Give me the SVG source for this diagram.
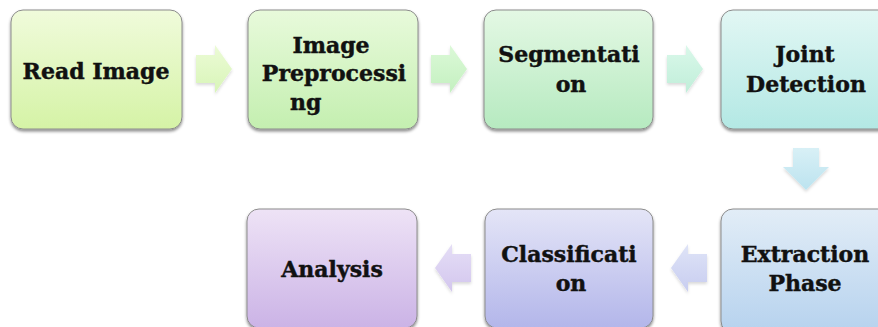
<svg xmlns="http://www.w3.org/2000/svg" width="878" height="327" viewBox="0 0 878 327">
<defs>
<style>
.box{stroke:#8c8c8c;stroke-width:1;filter:url(#sh)}
.arr{filter:url(#ash)}
.t{font-family:"DejaVu Serif","Liberation Serif",serif;font-weight:bold;font-size:22px;fill:#111;stroke:#111;stroke-width:0.45;text-anchor:middle}
.s{text-anchor:start}
</style>
<filter id="sh" x="-10%" y="-10%" width="120%" height="125%">
<feDropShadow dx="0" dy="2" stdDeviation="1.6" flood-color="#000" flood-opacity="0.45"/>
</filter>
<filter id="ash" x="-20%" y="-20%" width="140%" height="150%">
<feDropShadow dx="0" dy="2" stdDeviation="1.5" flood-color="#000" flood-opacity="0.15"/>
</filter>
<linearGradient id="g1" x1="0" y1="0" x2="0" y2="1"><stop offset="0" stop-color="#f0fbdb"/><stop offset="1" stop-color="#d5f3a6"/></linearGradient>
<linearGradient id="g2" x1="0" y1="0" x2="0" y2="1"><stop offset="0" stop-color="#e8fadb"/><stop offset="1" stop-color="#c4efb0"/></linearGradient>
<linearGradient id="g3" x1="0" y1="0" x2="0" y2="1"><stop offset="0" stop-color="#e4f8e4"/><stop offset="1" stop-color="#b6eac0"/></linearGradient>
<linearGradient id="g4" x1="0" y1="0" x2="0" y2="1"><stop offset="0" stop-color="#e2f7f4"/><stop offset="1" stop-color="#b3e8e4"/></linearGradient>
<linearGradient id="g5" x1="0" y1="0" x2="0" y2="1"><stop offset="0" stop-color="#e2edf7"/><stop offset="1" stop-color="#b6d2ee"/></linearGradient>
<linearGradient id="g6" x1="0" y1="0" x2="0" y2="1"><stop offset="0" stop-color="#e4e5f7"/><stop offset="1" stop-color="#b3b6ea"/></linearGradient>
<linearGradient id="g7" x1="0" y1="0" x2="0" y2="1"><stop offset="0" stop-color="#eee3f6"/><stop offset="1" stop-color="#cbb3e6"/></linearGradient>
<linearGradient id="a1" x1="0" y1="0" x2="0" y2="1"><stop offset="0" stop-color="#ecfbd6"/><stop offset="1" stop-color="#d8f5b8"/></linearGradient>
<linearGradient id="a2" x1="0" y1="0" x2="0" y2="1"><stop offset="0" stop-color="#dcf9d8"/><stop offset="1" stop-color="#c4f0c0"/></linearGradient>
<linearGradient id="a3" x1="0" y1="0" x2="0" y2="1"><stop offset="0" stop-color="#daf8ea"/><stop offset="1" stop-color="#c0eed9"/></linearGradient>
<linearGradient id="a4" x1="0" y1="0" x2="0" y2="1"><stop offset="0" stop-color="#d8f0f6"/><stop offset="1" stop-color="#bce3ef"/></linearGradient>
<linearGradient id="a5" x1="0" y1="0" x2="0" y2="1"><stop offset="0" stop-color="#dfe4f7"/><stop offset="1" stop-color="#c8cdf0"/></linearGradient>
<linearGradient id="a6" x1="0" y1="0" x2="0" y2="1"><stop offset="0" stop-color="#e5def6"/><stop offset="1" stop-color="#d3c6ee"/></linearGradient>
</defs>
<rect width="878" height="327" fill="#fff"/>
<g id="connectors">
<path class="arr" fill="url(#a1)" transform="translate(196,69)" d="M0,-14H19V-24L36,0L19,24V14H0Z"/>
<path class="arr" fill="url(#a2)" transform="translate(431,69)" d="M0,-14H19V-24L36,0L19,24V14H0Z"/>
<path class="arr" fill="url(#a3)" transform="translate(667,69)" d="M0,-14H19V-24L36,0L19,24V14H0Z"/>
<path class="arr" fill="url(#a4)" transform="translate(806,148)" d="M-13,0V19H-23L0,42L23,19H13V0Z"/>
<path class="arr" fill="url(#a5)" transform="translate(707,268)" d="M0,-14H-19V-24L-36,0L-19,24V14H0Z"/>
<path class="arr" fill="url(#a6)" transform="translate(471,268)" d="M0,-14H-19V-24L-36,0L-19,24V14H0Z"/>
</g>
<g id="read-image">
<rect class="box" x="11" y="10" width="171" height="119" rx="12" fill="url(#g1)"/>
<text class="t" x="96" y="79">Read Image</text>
</g>
<g id="image-preprocessing">
<rect class="box" x="248" y="10" width="170" height="119" rx="12" fill="url(#g2)"/>
<text class="t" x="331" y="53">Image</text>
<text class="t" x="334" y="81">Preprocessi</text>
<text class="t s" x="290" y="110">ng</text>
</g>
<g id="segmentation">
<rect class="box" x="484" y="10" width="169" height="119" rx="12" fill="url(#g3)"/>
<text class="t" x="569" y="62">Segmentati</text>
<text class="t" x="571" y="92">on</text>
</g>
<g id="joint-detection">
<rect class="box" x="721" y="10" width="171" height="119" rx="12" fill="url(#g4)"/>
<text class="t" x="805" y="62">Joint</text>
<text class="t" x="806" y="92">Detection</text>
</g>
<g id="extraction-phase">
<rect class="box" x="721" y="209" width="171" height="124" rx="12" fill="url(#g5)"/>
<text class="t" x="805" y="262">Extraction</text>
<text class="t" x="805" y="291">Phase</text>
</g>
<g id="classification">
<rect class="box" x="485" y="209" width="168" height="119" rx="12" fill="url(#g6)"/>
<text class="t" x="569" y="262">Classificati</text>
<text class="t" x="571" y="291">on</text>
</g>
<g id="analysis">
<rect class="box" x="247" y="209" width="170" height="119" rx="12" fill="url(#g7)"/>
<text class="t" x="332" y="277">Analysis</text>
</g>
</svg>
